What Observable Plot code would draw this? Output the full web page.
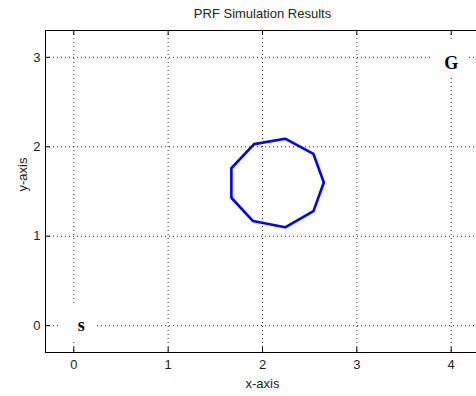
<!DOCTYPE html>
<html>
<head>
<meta charset="utf-8">
<script src="https://cdn.jsdelivr.net/npm/d3@7"></script>
<script src="https://cdn.jsdelivr.net/npm/@observablehq/plot@0.6"></script>
<style>
  html, body { margin: 0; padding: 0; background: #fff; overflow: hidden; }
  #chart svg { max-width: none !important; }
</style>
</head>
<body>
<div id="chart"></div>
<script>
// Data
const title = "PRF Simulation Results";
const xLabel = "x-axis";
const yLabel = "y-axis";
const xTicks = [0, 1, 2, 3, 4];
const yTicks = [0, 1, 2, 3];
const xDomain = [-0.3, 4.3];
const yDomain = [-0.3, 3.3];

// Path of the robot (blue polygon)
const pathX = [1.91, 2.24, 2.54, 2.65, 2.54, 2.24, 1.90, 1.67, 1.67, 1.91];
const pathY = [2.03, 2.09, 1.92, 1.60, 1.28, 1.10, 1.17, 1.43, 1.76, 2.03];

// Start and goal labels
const labelText = ["s", "G"];
const labelX = [0.08, 4.0];
const labelY = [0.0, 2.935];

const pathData = pathX.map((x, i) => ({x, y: pathY[i]}));
const labels = labelText.map((t, i) => ({t, x: labelX[i], y: labelY[i]}));

const W = 480, H = 396;
const mL = 45, mR = 1, mT = 30, mB = 44;
const frameW = W - mL - mR, frameH = H - mT - mB;

const plot = Plot.plot({
  width: W,
  height: H,
  marginLeft: mL,
  marginRight: mR,
  marginTop: mT,
  marginBottom: mB,
  style: {fontFamily: "'Liberation Sans', Arial, sans-serif", fontSize: "13px", color: "#222", background: "#fff", maxWidth: "none"},
  x: {domain: xDomain, label: null},
  y: {domain: yDomain, label: null},
  marks: [
    Plot.gridX(xTicks, {stroke: "#000", strokeOpacity: 0.85, strokeDasharray: "1,3"}),
    Plot.gridY(yTicks, {stroke: "#000", strokeOpacity: 0.85, strokeDasharray: "1,3"}),
    // white background boxes behind the labels
    Plot.dot(labels, {x: "x", y: "y", symbol: "square", r: 20, fill: "#fff", stroke: null, dx: -3, dy: -4}),
    Plot.line(pathData, {x: "x", y: "y", stroke: "#0000ff", strokeWidth: 2.6, strokeLinejoin: "round", curve: "linear"}),
    Plot.text(labels, {x: "x", y: "y", text: "t", fontFamily: "'Liberation Serif', 'Times New Roman', serif", fontWeight: "bold", fontSize: 18, fill: "#000"}),
    // frame
    Plot.frame({stroke: "#000", strokeWidth: 1}),
    // inward tick marks
    Plot.tickX(xTicks, {x: d => d, stroke: "#000", insetTop: frameH - 5}),
    Plot.tickX(xTicks, {x: d => d, stroke: "#000", insetBottom: frameH - 5}),
    Plot.tickY(yTicks, {y: d => d, stroke: "#000", insetRight: frameW - 5}),
    // tick labels
    Plot.axisX({ticks: xTicks, tickSize: 0, tickPadding: 7, tickFormat: d3.format("d"), label: null, fill: "#222"}),
    Plot.axisY({ticks: yTicks, tickSize: 0, tickPadding: 5, tickFormat: d3.format("d"), label: null, fill: "#222"}),
    // axis labels and title
    Plot.text([xLabel], {frameAnchor: "bottom", dy: 35, fontSize: 13, fill: "#222"}),
    Plot.text([yLabel], {frameAnchor: "left", dx: -23, rotate: -90, fontSize: 13, fill: "#222"}),
    Plot.text([title], {frameAnchor: "top", dy: -22, fontSize: 13, fill: "#222"})
  ]
});
document.getElementById("chart").appendChild(plot);
</script>
</body>
</html>
